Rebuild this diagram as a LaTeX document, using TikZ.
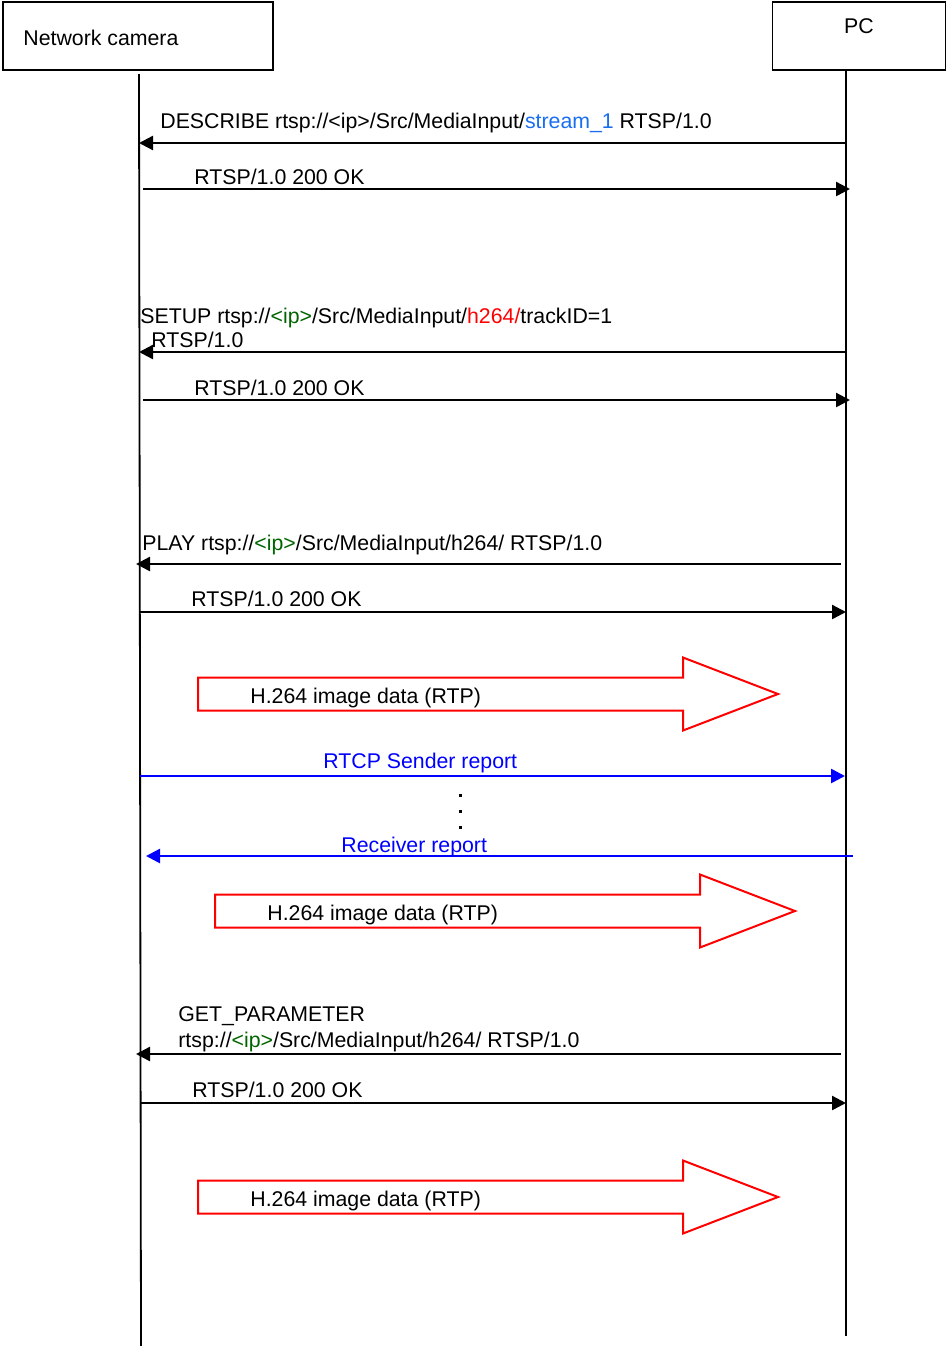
\documentclass[tikz,border=0pt]{standalone}
\usepackage{fontspec}
\setmainfont{Liberation Sans}
\usetikzlibrary{arrows.meta}
\definecolor{ipgreen}{RGB}{0,100,0}
\definecolor{streamblue}{RGB}{25,110,240}
\tikzset{
  actor/.style={draw,line width=0.9pt,inner sep=0pt},
  lifeline/.style={line width=0.9pt},
  msg/.style={line width=1.2pt,-{Triangle[length=7pt,width=7pt]}},
  rtcp/.style={msg,blue,line width=1.3pt},
  lbl/.style={anchor=base west,inner sep=0pt},
  rtpdata/.style={draw=red,line width=1pt},
}
\begin{document}
\begin{tikzpicture}[x=0.5pt,y=-0.5pt,font=\fontsize{10.65}{12.8}\selectfont]
        \useasboundingbox (0,0) rectangle (946,1346);
        \node[actor,minimum width=135pt,minimum height=34pt] (cambox) at (138,36) {};
        \node[actor,minimum width=86.5pt,minimum height=34pt] (pcbox) at (859,36) {};
        \node[lbl] (camname) at (23,45) {Network camera};
        \node[lbl,anchor=base] (pcname) at (859,33) {PC};
        \coordinate (camtop) at (139,74);
        \coordinate (cambot) at (141,1346);
        \coordinate (pctop) at (846,70);
        \coordinate (pcbot) at (846,1336);
        \draw[lifeline] (camtop) -- (cambot);
        \draw[lifeline] (pctop) -- (pcbot);
        \coordinate (p1) at (845,143);  \coordinate (c1) at (139,143);
        \coordinate (c2) at (143,189);  \coordinate (p2) at (850,189);
        \coordinate (p3) at (845,352);  \coordinate (c3) at (139,352);
        \coordinate (c4) at (143,400);  \coordinate (p4) at (850,400);
        \coordinate (p5) at (841,564);  \coordinate (c5) at (136,564);
        \coordinate (c6) at (140,612);  \coordinate (p6) at (846,612);
        \coordinate (c7) at (140,776);  \coordinate (p7) at (845,776);
        \coordinate (p8) at (853,856);  \coordinate (c8) at (146,856);
        \coordinate (p9) at (841,1054); \coordinate (c9) at (136,1054);
        \coordinate (c10) at (140,1103); \coordinate (p10) at (846,1103);
        \draw[msg] (p1) -- (c1);
        \node[lbl] (describe) at (160,128) {DESCRIBE rtsp://<ip>/Src/MediaInput/\textcolor{streamblue}{stream\_1} RTSP/1.0};
        \draw[msg] (c2) -- (p2);
        \node[lbl] (ok1) at (194,184) {RTSP/1.0 200 OK};
        \draw[msg] (p3) -- (c3);
        \node[lbl] (setup) at (140,323) {SETUP rtsp://\textcolor{ipgreen}{<ip>}/Src/MediaInput/\textcolor{red}{h264/}trackID=1};
        \node[lbl] (setupver) at (151,347) {RTSP/1.0};
        \draw[msg] (c4) -- (p4);
        \node[lbl] (ok2) at (194,395) {RTSP/1.0 200 OK};
        \draw[msg] (p5) -- (c5);
        \node[lbl] (play) at (142,550) {PLAY rtsp://\textcolor{ipgreen}{<ip>}/Src/MediaInput/h264/ RTSP/1.0};
        \draw[msg] (c6) -- (p6);
        \node[lbl] (ok3) at (191,606) {RTSP/1.0 200 OK};
        \draw[rtcp] (c7) -- (p7);
        \node[lbl,text=blue] (sender) at (323,768) {RTCP Sender report};
        \foreach \d in {795,811,827}
          \fill (458.5,\d-1.5) rectangle ++(3,3);
        \draw[rtcp] (p8) -- (c8);
        \node[lbl,text=blue] (receiver) at (341,852) {Receiver report};
        \draw[msg] (p9) -- (c9);
        \node[lbl] (getparam) at (178,1021) {GET\_PARAMETER};
        \node[lbl] (getparamurl) at (178,1047) {rtsp://\textcolor{ipgreen}{<ip>}/Src/MediaInput/h264/ RTSP/1.0};
        \draw[msg] (c10) -- (p10);
        \node[lbl] (ok4) at (192,1097) {RTSP/1.0 200 OK};
        \foreach \x/\y in {198/694, 215/911, 198/1197} {
          \draw[rtpdata] (\x,\y-16.5) -- (\x+485,\y-16.5) -- (\x+485,\y-36.5) -- (\x+580,\y)
            -- (\x+485,\y+36.5) -- (\x+485,\y+16.5) -- (\x,\y+16.5) -- cycle;
          \node[lbl] (rtp\y) at (\x+52,\y+9) {H.264 image data (RTP)};
        }
\end{tikzpicture}
\end{document}
